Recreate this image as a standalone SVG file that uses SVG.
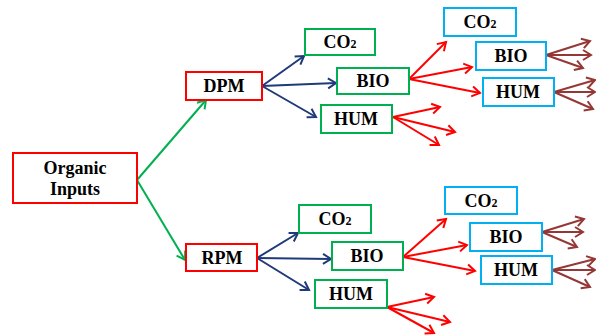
<svg xmlns="http://www.w3.org/2000/svg" width="596" height="335" viewBox="0 0 596 335">
<style>
.box{fill:#fff;stroke-width:2}
.r{stroke:#ff0000}
.g{stroke:#00b050}
.c{stroke:#00b0f0}
text{font-family:"Liberation Serif","Times New Roman",serif;font-weight:bold;font-size:18px;fill:#000;text-anchor:middle}
.sub{font-size:12px}
#connectors line{stroke-width:2;fill:none}
.ag{stroke:#00b050}
.ab{stroke:#1f3a78}
.ar{stroke:#ff0000}
.an{stroke:#953735}
</style>
<defs>
<marker id="mg" markerUnits="userSpaceOnUse" viewBox="-10 -10 20 20" markerWidth="20" markerHeight="20" refX="0" refY="0" orient="auto"><path d="M-8,-5 L0,0 L-8,5" fill="none" stroke="#00b050" stroke-width="2"/></marker>
<marker id="mb" markerUnits="userSpaceOnUse" viewBox="-10 -10 20 20" markerWidth="20" markerHeight="20" refX="0" refY="0" orient="auto"><path d="M-8,-5 L0,0 L-8,5" fill="none" stroke="#1f3a78" stroke-width="2"/></marker>
<marker id="mr" markerUnits="userSpaceOnUse" viewBox="-10 -10 20 20" markerWidth="20" markerHeight="20" refX="0" refY="0" orient="auto"><path d="M-8,-5 L0,0 L-8,5" fill="none" stroke="#ff0000" stroke-width="2"/></marker>
<marker id="mn" markerUnits="userSpaceOnUse" viewBox="-10 -10 20 20" markerWidth="20" markerHeight="20" refX="0" refY="0" orient="auto"><path d="M-8,-5 L0,0 L-8,5" fill="none" stroke="#953735" stroke-width="2"/></marker>
</defs>
<rect width="596" height="335" fill="#fff"/>
<g id="connectors">
<line class="ag" x1="137" y1="180" x2="206" y2="100" marker-end="url(#mg)"/>
<line class="ag" x1="137" y1="180" x2="185" y2="260" marker-end="url(#mg)"/>
<line class="ab" x1="262" y1="86" x2="304" y2="56" marker-end="url(#mb)"/>
<line class="ab" x1="262" y1="86" x2="336" y2="83" marker-end="url(#mb)"/>
<line class="ab" x1="262" y1="86" x2="316" y2="117" marker-end="url(#mb)"/>
<line class="ab" x1="257" y1="258" x2="298" y2="233" marker-end="url(#mb)"/>
<line class="ab" x1="257" y1="258" x2="331" y2="259" marker-end="url(#mb)"/>
<line class="ab" x1="257" y1="258" x2="309" y2="290" marker-end="url(#mb)"/>
<line class="ar" x1="409" y1="79" x2="446" y2="42" marker-end="url(#mr)"/>
<line class="ar" x1="409" y1="79" x2="472" y2="67" marker-end="url(#mr)"/>
<line class="ar" x1="409" y1="79" x2="480" y2="93" marker-end="url(#mr)"/>
<line class="ar" x1="393" y1="117" x2="440" y2="107" marker-end="url(#mr)"/>
<line class="ar" x1="393" y1="117" x2="455" y2="132" marker-end="url(#mr)"/>
<line class="ar" x1="393" y1="117" x2="439" y2="145" marker-end="url(#mr)"/>
<line class="ar" x1="403" y1="257" x2="446" y2="219" marker-end="url(#mr)"/>
<line class="ar" x1="403" y1="257" x2="467" y2="245" marker-end="url(#mr)"/>
<line class="ar" x1="403" y1="257" x2="475" y2="271" marker-end="url(#mr)"/>
<line class="ar" x1="387" y1="307" x2="434" y2="297" marker-end="url(#mr)"/>
<line class="ar" x1="387" y1="307" x2="450" y2="322" marker-end="url(#mr)"/>
<line class="ar" x1="387" y1="307" x2="434" y2="333" marker-end="url(#mr)"/>
<line class="an" x1="546" y1="55" x2="590" y2="41" marker-end="url(#mn)"/>
<line class="an" x1="546" y1="55" x2="591" y2="55" marker-end="url(#mn)"/>
<line class="an" x1="546" y1="55" x2="583" y2="68" marker-end="url(#mn)"/>
<line class="an" x1="554" y1="92" x2="595" y2="80" marker-end="url(#mn)"/>
<line class="an" x1="554" y1="92" x2="595" y2="92" marker-end="url(#mn)"/>
<line class="an" x1="554" y1="92" x2="593" y2="109" marker-end="url(#mn)"/>
<line class="an" x1="542" y1="232" x2="584" y2="219" marker-end="url(#mn)"/>
<line class="an" x1="542" y1="232" x2="583" y2="232" marker-end="url(#mn)"/>
<line class="an" x1="542" y1="232" x2="577" y2="247" marker-end="url(#mn)"/>
<line class="an" x1="552" y1="270" x2="595" y2="259" marker-end="url(#mn)"/>
<line class="an" x1="552" y1="270" x2="595" y2="270" marker-end="url(#mn)"/>
<line class="an" x1="552" y1="270" x2="590" y2="287" marker-end="url(#mn)"/>
</g>
<g id="organic"><rect class="box r" x="13" y="153" width="124" height="50"/><text x="75" y="174">Organic</text><text x="75" y="195">Inputs</text></g>
<g id="dpm"><rect class="box r" x="186" y="72" width="76" height="28"/><text x="224" y="92">DPM</text></g>
<g id="rpm"><rect class="box r" x="186" y="244" width="71" height="27"/><text x="222" y="264">RPM</text></g>
<g id="co2a"><rect class="box g" x="305" y="29" width="70" height="26"/><text x="340" y="48">CO<tspan class="sub">2</tspan></text></g>
<g id="bioa"><rect class="box g" x="337" y="68" width="72" height="26"/><text x="373" y="87">BIO</text></g>
<g id="huma"><rect class="box g" x="321" y="105" width="71" height="28"/><text x="356" y="125">HUM</text></g>
<g id="co2b"><rect class="box g" x="299" y="205" width="72" height="28"/><text x="335" y="225">CO<tspan class="sub">2</tspan></text></g>
<g id="biob"><rect class="box g" x="332" y="242" width="71" height="28"/><text x="367" y="262">BIO</text></g>
<g id="humb"><rect class="box g" x="315" y="280" width="72" height="28"/><text x="351" y="300">HUM</text></g>
<g id="co2c"><rect class="box c" x="444" y="8" width="72" height="28"/><text x="480" y="28">CO<tspan class="sub">2</tspan></text></g>
<g id="bioc"><rect class="box c" x="476" y="42" width="70" height="28"/><text x="511" y="62">BIO</text></g>
<g id="humc"><rect class="box c" x="483" y="78" width="71" height="28"/><text x="518" y="98">HUM</text></g>
<g id="co2d"><rect class="box c" x="445" y="187" width="72" height="27"/><text x="481" y="207">CO<tspan class="sub">2</tspan></text></g>
<g id="biod"><rect class="box c" x="470" y="223" width="72" height="28"/><text x="506" y="243">BIO</text></g>
<g id="humd"><rect class="box c" x="481" y="256" width="71" height="28"/><text x="516" y="276">HUM</text></g>
</svg>
